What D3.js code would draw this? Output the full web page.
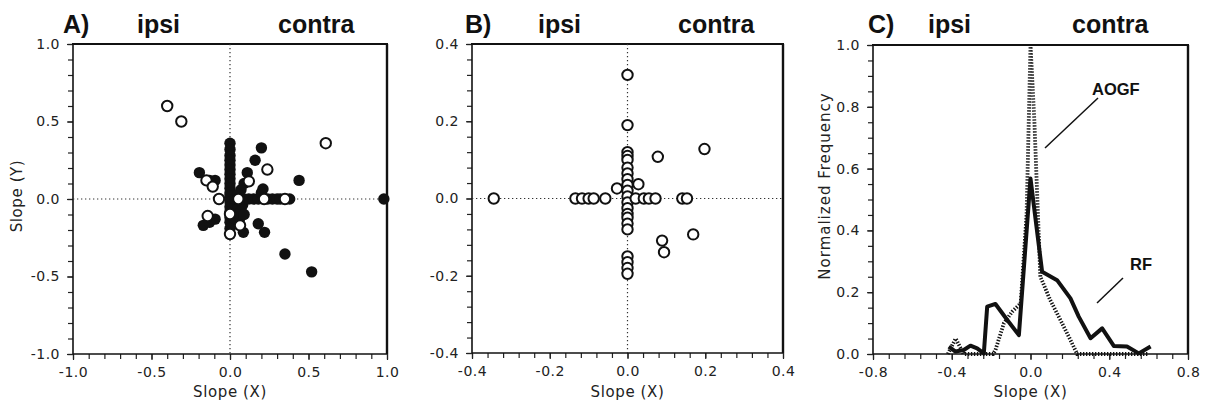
<!DOCTYPE html>
<html><head><meta charset="utf-8">
<script src="https://cdn.jsdelivr.net/npm/d3@7"></script>
<style>
html,body{margin:0;padding:0;background:#fff;}
svg{display:block;}
.tick text{font-family:"DejaVu Sans",sans-serif;font-size:14px;letter-spacing:0.5px;fill:#222;}
.lbl{font-family:"DejaVu Sans",sans-serif;font-size:15px;letter-spacing:0.6px;fill:#222;}
.ttl{font-family:"Liberation Sans",Arial,sans-serif;font-weight:bold;font-size:25px;fill:#111;}
.ann{font-family:"Liberation Sans",Arial,sans-serif;font-weight:bold;font-size:16.5px;fill:#111;}
</style></head>
<body>
<svg id="chart" width="1208" height="408"></svg>
<script>
// ---------- DATA ----------
// Panel A: filled circles (x slope, y slope)
const aFilledX = [0,0,0,0,0,0,0,0,0,0,0,0,0,0,0,0,0,0,
  0.03,0.05,0.04,0.07,0.06,0.08,0.02,0.09,
  0.03,0.06,0.09,0.12,0.15,0.18,0.24,0.27,0.30,0.32,0.38,
  0.11,0.09,0.07,0.05,
  0.20,0.16,0.44,0.21,0.20,0.98,0.52,0.35,0.18,0.22,0.085,-0.17,-0.095,-0.195,-0.095,-0.13,-0.13];
const aFilledY = [0.36,0.32,0.28,0.25,0.22,0.19,0.16,0.13,0.10,0.07,0.04,0.02,-0.02,-0.05,-0.08,-0.12,-0.15,-0.19,
  -0.04,-0.06,-0.10,-0.08,-0.13,-0.04,-0.12,-0.10,
  0,0,0,0,0,0,0,0,0,0,0,
  0.17,0.10,0.06,0.03,
  0.33,0.25,0.12,0.065,0.04,0,-0.47,-0.355,-0.16,-0.215,-0.215,-0.17,-0.13,0.17,0.12,0.12,-0.15];
// Panel A: open circles
const aOpenX = [-0.40,-0.31,0.61,0.238,0.12,-0.15,-0.11,-0.07,0.053,0.217,0.35,0,-0.142,0.064,0];
const aOpenY = [0.60,0.50,0.36,0.19,0.114,0.12,0.08,0,0,0,0,-0.097,-0.11,-0.17,-0.226];
// Panel B: open circles
const bOpenX = [0,0,0,0,0,0,0,0,0,0,0,0,0,0,0,0,0,0,0,0,0,
  0.078,0.198,0.028,-0.027,0.169,0.089,0.094,
  -0.344,-0.134,-0.117,-0.100,-0.087,-0.057,0.021,0.042,0.055,0.072,0.141,0.153];
const bOpenY = [0.32,0.19,0.12,0.11,0.10,0.08,0.065,0.05,0.035,0.02,0.005,-0.01,-0.025,-0.04,-0.05,-0.065,-0.08,-0.15,-0.165,-0.18,-0.195,
  0.108,0.128,0.037,0.026,-0.093,-0.109,-0.139,
  0,0,0,0,0,0,0,0,0,0,0,0];
// Panel C: RF (solid) and AOGF (dotted) normalized frequency
const rfX = [-0.415,-0.381,-0.339,-0.305,-0.271,-0.237,-0.22,-0.178,-0.118,-0.059,0.0,0.059,0.135,0.203,0.245,0.305,0.364,0.423,0.49,0.55,0.61];
const rfY = [0.024,0.008,0.013,0.027,0.018,0.002,0.153,0.162,0.110,0.061,0.568,0.266,0.239,0.180,0.121,0.051,0.083,0.026,0.024,0.002,0.024];
const aogfX = [-0.42,-0.38,-0.34,-0.19,-0.178,-0.135,-0.093,-0.05,-0.02,0.0,0.02,0.035,0.05,0.10,0.152,0.203,0.237,0.60];
const aogfY = [0.0,0.05,0.0,0.0,0.013,0.10,0.137,0.164,0.45,1.0,0.75,0.50,0.25,0.175,0.11,0.045,0.0,0.0];
// Tick labels
const aTicks = [-1.0,-0.5,0.0,0.5,1.0];
const bTicks = [-0.4,-0.2,0.0,0.2,0.4];
const cXTicks = [-0.8,-0.4,0.0,0.4,0.8];
const cYTicks = [0.0,0.2,0.4,0.6,0.8,1.0];
const titlesA = ["A)","ipsi","contra"];
const titlesB = ["B)","ipsi","contra"];
const titlesC = ["C)","ipsi","contra"];

// ---------- DRAW ----------
const svg = d3.select("#chart");
const fmt = v => v.toFixed(1);

function panel(o){
  const g = svg.append("g");
  const x = d3.scaleLinear().domain(o.xd).range([o.l, o.r]);
  const y = d3.scaleLinear().domain(o.yd).range([o.b, o.t]);
  // minor ticks
  g.append("g").attr("transform",`translate(0,${o.b})`)
    .call(d3.axisBottom(x).tickValues(o.xMinor).tickSize(5).tickFormat(""))
    .call(s=>s.select(".domain").remove());
  g.append("g").attr("transform",`translate(${o.l},0)`)
    .call(d3.axisLeft(y).tickValues(o.yMinor).tickSize(5).tickFormat(""))
    .call(s=>s.select(".domain").remove());
  // major ticks + labels
  g.append("g").attr("transform",`translate(0,${o.b})`)
    .call(d3.axisBottom(x).tickValues(o.xt).tickSize(6).tickPadding(7).tickFormat(fmt))
    .call(s=>s.select(".domain").remove());
  g.append("g").attr("transform",`translate(${o.l},0)`)
    .call(d3.axisLeft(y).tickValues(o.yt).tickSize(6).tickPadding(7).tickFormat(fmt))
    .call(s=>s.select(".domain").remove());
  g.selectAll(".tick line").attr("stroke","#222").attr("stroke-width",1.2);
  // frame
  g.append("line").attr("x1",o.l).attr("x2",o.r).attr("y1",o.b).attr("y2",o.b).attr("stroke","#111").attr("stroke-width",1.6);
  g.append("line").attr("x1",o.l).attr("x2",o.l).attr("y1",o.t).attr("y2",o.b).attr("stroke","#111").attr("stroke-width",1.6);
  g.append("line").attr("x1",o.l-1).attr("x2",o.r+1).attr("y1",o.t).attr("y2",o.t).attr("stroke","#111").attr("stroke-width",2);
  g.append("line").attr("x1",o.r).attr("x2",o.r).attr("y1",o.t).attr("y2",o.b).attr("stroke","#111").attr("stroke-width",2.4);
  // titles
  g.append("text").attr("class","ttl").attr("x",o.tx[0]).attr("y",33).text(o.titles[0]);
  g.append("text").attr("class","ttl").attr("x",o.tx[1]).attr("y",33).text(o.titles[1]);
  g.append("text").attr("class","ttl").attr("x",o.tx[2]).attr("y",33).text(o.titles[2]);
  // x label
  g.append("text").attr("class","lbl").attr("x",(o.l+o.r)/2).attr("y",397).attr("text-anchor","middle").text("Slope (X)");
  return {g,x,y};
}

function zeroLines(p, o){
  p.g.append("line").attr("x1",o.l).attr("x2",o.r).attr("y1",p.y(0)).attr("y2",p.y(0))
    .attr("stroke","#333").attr("stroke-width",1.2).attr("stroke-dasharray","1.3,2.7");
  p.g.append("line").attr("x1",p.x(0)).attr("x2",p.x(0)).attr("y1",o.t).attr("y2",o.b)
    .attr("stroke","#333").attr("stroke-width",1.2).attr("stroke-dasharray","1.3,2.7");
}

// Panel A
const oA = {l:73,r:387,t:44,b:354,xd:[-1,1],yd:[-1,1],xt:aTicks,yt:aTicks,
  xMinor:d3.range(-10,11).map(i=>i/10), yMinor:d3.range(-10,11).map(i=>i/10),
  tx:[63,137,278], titles:titlesA};
const pA = panel(oA);
zeroLines(pA,oA);
pA.g.append("g").selectAll("circle").data(d3.range(aFilledX.length)).join("circle")
  .attr("cx",i=>pA.x(aFilledX[i])).attr("cy",i=>pA.y(aFilledY[i])).attr("r",5.7).attr("fill","#111");
pA.g.append("g").selectAll("circle").data(d3.range(aOpenX.length)).join("circle")
  .attr("cx",i=>pA.x(aOpenX[i])).attr("cy",i=>pA.y(aOpenY[i])).attr("r",5.2)
  .attr("fill","#fff").attr("stroke","#111").attr("stroke-width",2);
pA.g.append("text").attr("class","lbl").attr("transform","translate(22,196) rotate(-90)")
  .attr("text-anchor","middle").text("Slope (Y)");

// Panel B
const oB = {l:472,r:783,t:44,b:353,xd:[-0.4,0.4],yd:[-0.4,0.4],xt:bTicks,yt:bTicks,
  xMinor:d3.range(-10,11).map(i=>i*0.04), yMinor:d3.range(-10,11).map(i=>i*0.04),
  tx:[465,538,678], titles:titlesB};
const pB = panel(oB);
zeroLines(pB,oB);
pB.g.append("g").selectAll("circle").data(d3.range(bOpenX.length)).join("circle")
  .attr("cx",i=>pB.x(bOpenX[i])).attr("cy",i=>pB.y(bOpenY[i])).attr("r",5.2)
  .attr("fill","#fff").attr("stroke","#111").attr("stroke-width",2);

// Panel C
const oC = {l:873,r:1188,t:45,b:354,xd:[-0.8,0.8],yd:[0,1],xt:cXTicks,yt:cYTicks,
  xMinor:d3.range(-10,11).map(i=>i*0.08), yMinor:d3.range(0,21).map(i=>i*0.05),
  tx:[868,928,1072], titles:titlesC};
const pC = panel(oC);
const line = d3.line();
pC.g.append("path").attr("d",line(aogfX.map((v,i)=>[pC.x(v),pC.y(aogfY[i])])))
  .attr("fill","none").attr("stroke","#111").attr("stroke-width",3.8).attr("stroke-dasharray","1.4,1.6");
pC.g.append("path").attr("d",line(rfX.map((v,i)=>[pC.x(v),pC.y(rfY[i])])))
  .attr("fill","none").attr("stroke","#111").attr("stroke-width",4).attr("stroke-linejoin","round");
pC.g.append("text").attr("class","lbl").attr("transform","translate(830,186) rotate(-90)")
  .attr("text-anchor","middle").attr("style","letter-spacing:1px").text("Normalized Frequency");
pC.g.append("text").attr("class","ann").attr("x",1092).attr("y",95).text("AOGF");
pC.g.append("line").attr("x1",1098).attr("y1",98).attr("x2",1045).attr("y2",148).attr("stroke","#111").attr("stroke-width",1.5);
pC.g.append("text").attr("class","ann").attr("x",1130).attr("y",270).text("RF");
pC.g.append("line").attr("x1",1123).attr("y1",278).attr("x2",1097).attr("y2",303).attr("stroke","#111").attr("stroke-width",1.5);
</script>
</body></html>
